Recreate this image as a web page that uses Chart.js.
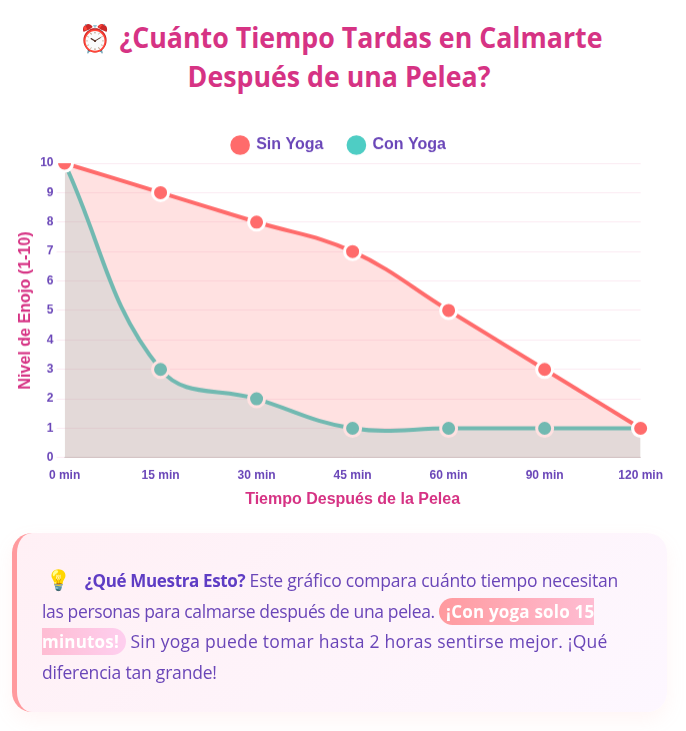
<!DOCTYPE html>
<html lang="es">
<head>
<meta charset="utf-8">
<title>Calmarse</title>
<script src="https://cdn.jsdelivr.net/npm/chart.js@4"></script>
<style>
    html, body { margin: 0; padding: 0; background: #fff; }
    body { width: 686px; height: 731px; position: relative; overflow: hidden; font-family: "Open Sans", "Noto Sans", sans-serif; }
    h1 {
        position: absolute; left: 26px; top: 18px; width: 626px; margin: 0; text-align: center;
        font-size: 28px; line-height: 38px; font-weight: 700; color: #d63384;
        transform: scaleX(0.955);
    }
    h1 .emoji { font-size: 27px; margin: 0 8px 0 4px; }
    .chart-box { position: absolute; left: 12px; top: 112px; width: 654px; height: 400.5px; }
    .info {
        position: absolute; left: 12px; top: 533px; width: 655px; height: 179px; box-sizing: border-box;
        border-left: 5px solid #ff9a9e; border-radius: 20px; padding: 32px 30px 30px 25px;
        background: linear-gradient(135deg, #fff0f5, #fdf7ff);
        box-shadow: 0 8px 20px rgba(255, 154, 158, 0.1);
        color: #6a46b8; font-size: 17.5px; line-height: 30.6px; letter-spacing: -0.2px;
    }
    .info .emoji { font-size: 20px; line-height: 1; margin: 0 14px 0 4px; }
    .info b { color: #5f3dc4; font-size: 17px; line-height: 1; letter-spacing: -0.35px; }
    .info .tight { letter-spacing: -0.36px; }
    .info .wide { letter-spacing: 0.25px; }
    .hl {
        background: linear-gradient(90deg, #ff9a9e, #fecfef); color: #fff; font-weight: 700;
        font-size: 17px; line-height: 1; letter-spacing: 0.2px;
        padding: 2px 7px; border-radius: 15px;
    }
</style>
</head>
<body>
<h1><span class="emoji">⏰</span>¿Cuánto Tiempo Tardas en Calmarte Después de una Pelea?</h1>
<div class="chart-box"><canvas id="calmChart"></canvas></div>
<div class="info"><span class="emoji">💡</span><b>¿Qué Muestra Esto?</b> Este gráfico compara cuánto tiempo necesitan <span class="tight">las personas para calmarse después de una pelea.</span> <span class="hl">¡Con yoga solo 15 minutos!</span> <span class="wide">Sin yoga puede tomar hasta 2 horas sentirse mejor. ¡Qué</span> diferencia tan grande!</div>
<script>
const timeLabels = ['0 min', '15 min', '30 min', '45 min', '60 min', '90 min', '120 min'];
const sinYoga = [10, 9, 8, 7, 5, 3, 1];
const conYoga = [10, 3, 2, 1, 1, 1, 1];

const ctx = document.getElementById('calmChart').getContext('2d');
new Chart(ctx, {
    type: 'line',
    data: {
        labels: timeLabels,
        datasets: [{
            label: 'Sin Yoga',
            data: sinYoga,
            borderColor: '#ff6b6b',
            backgroundColor: 'rgba(255, 107, 107, 0.2)',
            pointBackgroundColor: '#ff6b6b',
            pointBorderColor: '#fff',
            borderWidth: 4,
            pointRadius: 8,
            pointBorderWidth: 3,
            tension: 0.4,
            fill: true
        }, {
            label: 'Con Yoga',
            data: conYoga,
            borderColor: '#4ecdc4',
            backgroundColor: 'rgba(78, 205, 196, 0.2)',
            pointBackgroundColor: '#4ecdc4',
            pointBorderColor: '#fff',
            borderWidth: 4,
            pointRadius: 8,
            pointBorderWidth: 3,
            tension: 0.4,
            fill: true
        }]
    },
    options: {
        responsive: true,
        maintainAspectRatio: false,
        animation: false,
        plugins: {
            legend: {
                position: 'top',
                maxHeight: 54,
                labels: {
                    usePointStyle: true,
                    pointStyle: 'circle',
                    padding: 25,
                    color: '#6a46b8',
                    font: { family: 'Liberation Sans', size: 16, weight: 'bold' }
                }
            }
        },
        scales: {
            y: {
                min: 0,
                max: 10,
                ticks: { stepSize: 1, color: '#6a46b8', font: { family: 'Liberation Sans', size: 12, weight: 'bold' } },
                grid: { color: 'rgba(214, 51, 132, 0.1)' },
                border: { display: false },
                title: {
                    display: true,
                    text: 'Nivel de Enojo (1-10)',
                    color: '#d63384',
                    padding: { top: 4, bottom: 2 },
                    font: { family: 'Liberation Sans', size: 16, weight: 'bold' }
                }
            },
            x: {
                ticks: { color: '#6a46b8', font: { family: 'Liberation Sans', size: 12, weight: 'bold' } },
                grid: { display: false },
                title: { display: true, text: 'Tiempo Después de la Pelea', color: '#d63384', font: { family: 'Liberation Sans', size: 16, weight: 'bold' } }
            }
        }
    }
});
</script>
</body>
</html>
